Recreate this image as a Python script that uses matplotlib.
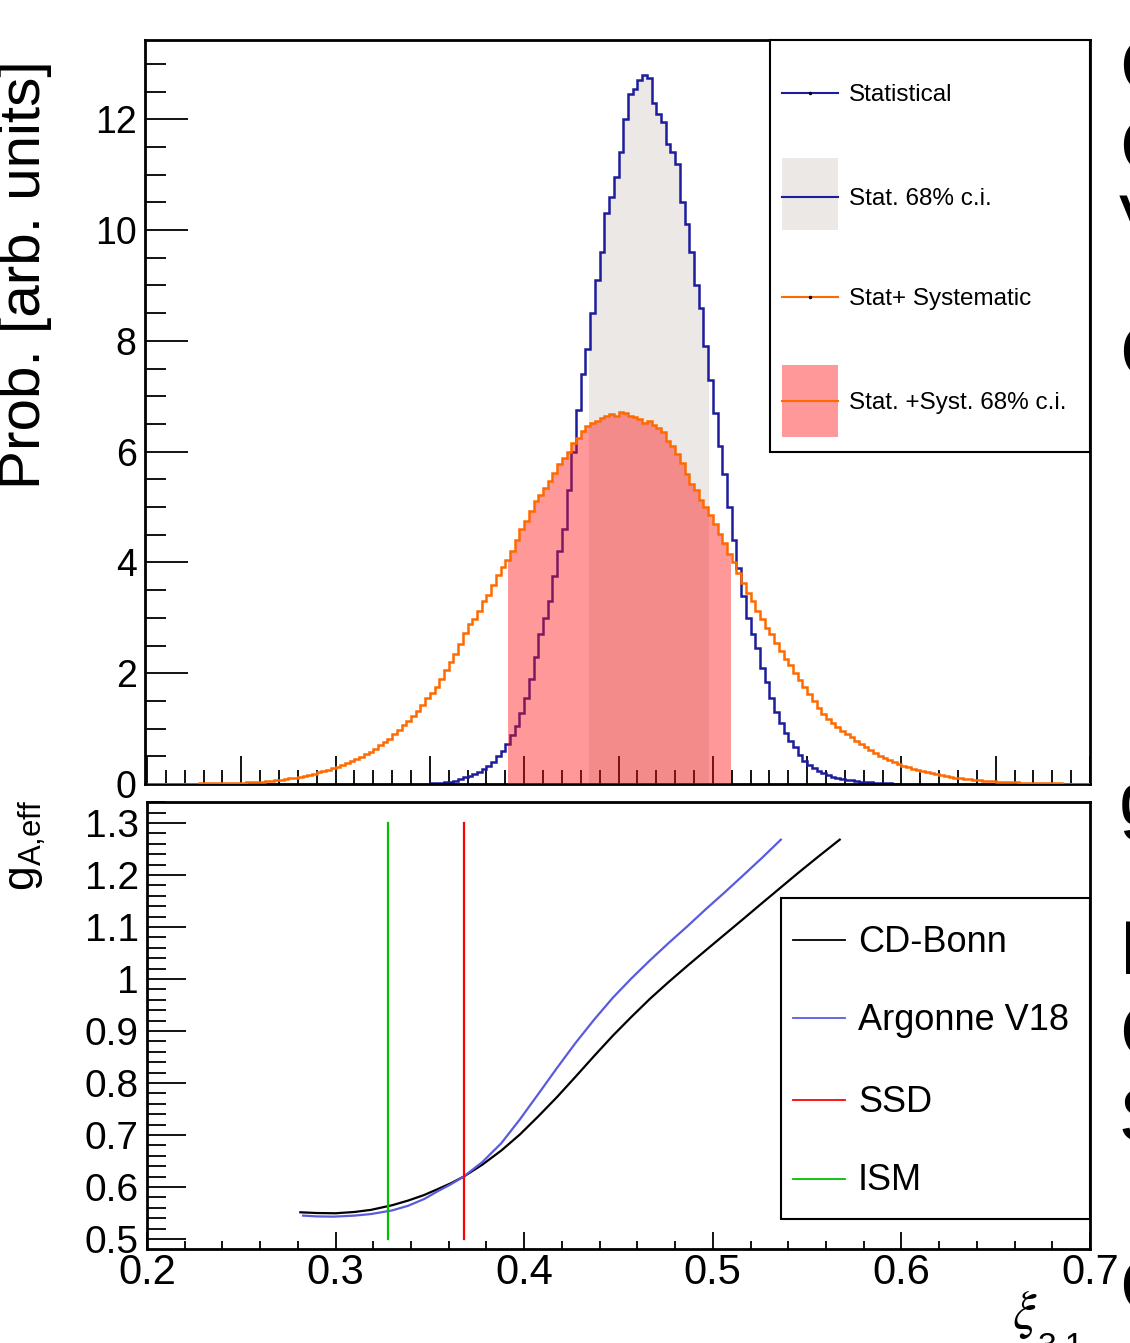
import numpy as np
import matplotlib
matplotlib.use('Agg')
import matplotlib.pyplot as plt
from matplotlib.patches import Rectangle
from matplotlib.lines import Line2D
from matplotlib.ticker import MultipleLocator, FuncFormatter

plt.rcParams['font.family'] = ['Liberation Sans', 'DejaVu Sans']
plt.rcParams['mathtext.fontset'] = 'custom'
plt.rcParams['mathtext.rm'] = 'Liberation Sans'

# ---------------- data ----------------
# Statistical posterior (histogram, bin width 0.0025 starting at 0.350)
stat_lo, stat_w = 0.350, 0.0025
stat_vals = [0.01, 0.015, 0.02, 0.03, 0.04, 0.06, 0.09, 0.12, 0.15, 0.18,
             0.22, 0.27, 0.33, 0.40, 0.5, 0.6, 0.72, 0.88, 1.05, 1.28,
             1.55, 1.9, 2.3, 2.7, 3.0, 3.3, 3.75, 4.2, 4.6, 5.3,
             6.0, 6.75, 7.4, 7.85, 8.5, 9.1, 9.6, 10.3, 10.6, 10.95,
             11.4, 12.0, 12.45, 12.55, 12.7, 12.8, 12.75, 12.3, 12.1, 11.95,
             11.55, 11.4, 11.2, 10.5, 10.1, 9.6, 9.0, 8.6, 7.9, 7.3,
             6.7, 6.1, 5.6, 5.0, 4.4, 3.9, 3.4, 3.0, 2.7, 2.45,
             2.1, 1.85, 1.55, 1.3, 1.1, 0.92, 0.78, 0.66, 0.52, 0.42,
             0.35, 0.28, 0.23, 0.19, 0.16, 0.13, 0.11, 0.09, 0.08, 0.07,
             0.055, 0.045, 0.035, 0.03, 0.022, 0.018, 0.014, 0.01, 0.008, 0.005]
# Stat + systematic posterior (histogram, bin width 0.0025 starting at 0.200)
syst_lo, syst_w = 0.200, 0.0025
syst_vals = [0.003, 0.003, 0.004, 0.004, 0.005, 0.005, 0.006, 0.006, 0.007, 0.008,
             0.009, 0.01, 0.011, 0.012, 0.014, 0.015, 0.017, 0.018, 0.02, 0.022,
             0.025, 0.028, 0.033, 0.037, 0.045, 0.05, 0.06, 0.065, 0.08, 0.09,
             0.1, 0.115, 0.13, 0.145, 0.17, 0.185, 0.21, 0.23, 0.26, 0.28,
             0.31, 0.34, 0.38, 0.42, 0.45, 0.49, 0.54, 0.58, 0.64, 0.70,
             0.76, 0.82, 0.9, 0.97, 1.06, 1.14, 1.22, 1.31, 1.42, 1.55,
             1.65, 1.75, 1.9, 2.05, 2.2, 2.35, 2.52, 2.72, 2.88, 2.98,
             3.12, 3.3, 3.42, 3.6, 3.78, 3.92, 4.05, 4.2, 4.4, 4.6,
             4.75, 4.92, 5.1, 5.22, 5.35, 5.47, 5.62, 5.78, 5.88, 6.0,
             6.15, 6.25, 6.38, 6.46, 6.52, 6.55, 6.6, 6.64, 6.68, 6.65,
             6.72, 6.7, 6.65, 6.62, 6.58, 6.52, 6.55, 6.48, 6.42, 6.35,
             6.2, 6.1, 5.95, 5.8, 5.6, 5.42, 5.3, 5.12, 5.0, 4.85,
             4.7, 4.52, 4.35, 4.15, 4.0, 3.8, 3.62, 3.45, 3.3, 3.12,
             2.98, 2.82, 2.7, 2.55, 2.4, 2.25, 2.15, 2.0, 1.88, 1.75,
             1.62, 1.5, 1.38, 1.27, 1.18, 1.1, 1.02, 0.95, 0.9, 0.84,
             0.78, 0.72, 0.67, 0.61, 0.56, 0.51, 0.47, 0.43, 0.39, 0.36,
             0.33, 0.3, 0.27, 0.25, 0.23, 0.21, 0.19, 0.175, 0.16, 0.145,
             0.13, 0.115, 0.1, 0.092, 0.084, 0.077, 0.068, 0.062, 0.055, 0.05,
             0.045, 0.04, 0.036, 0.032, 0.028, 0.025, 0.022, 0.02, 0.018, 0.016,
             0.014, 0.012, 0.011, 0.01, 0.009, 0.008, 0.007, 0.006, 0.005, 0.005]
stat_ci = (0.4344, 0.4980)
syst_ci = (0.3914, 0.5097)

# g_A,eff vs xi_31
cdb_x = [0.2813, 0.29, 0.30, 0.31, 0.3187, 0.33, 0.3385, 0.3465, 0.3542, 0.361, 0.3679,
         0.3778, 0.3878, 0.3977, 0.4075, 0.4174, 0.4272, 0.4371, 0.447, 0.4568, 0.4667,
         0.4765, 0.4864, 0.4962, 0.5061, 0.516, 0.5258, 0.5357, 0.5456, 0.5565, 0.5673]
cdb_y = [0.5514, 0.5500, 0.5495, 0.552, 0.556, 0.565, 0.574, 0.584, 0.596, 0.607, 0.620,
         0.643, 0.670, 0.701, 0.736, 0.773, 0.812, 0.852, 0.891, 0.927, 0.962,
         0.994, 1.025, 1.055, 1.085, 1.115, 1.145, 1.175, 1.205, 1.237, 1.268]
av18_x = [0.2828, 0.29, 0.299, 0.31, 0.3187, 0.33, 0.3385, 0.347, 0.3542, 0.361, 0.3679,
          0.3778, 0.3878, 0.3977, 0.4075, 0.4174, 0.4272, 0.4371, 0.447, 0.4568, 0.4667,
          0.4765, 0.4864, 0.4962, 0.5061, 0.516, 0.5261, 0.5361]
av18_y = [0.545, 0.5435, 0.543, 0.545, 0.548, 0.555, 0.564, 0.577, 0.592, 0.605, 0.620,
          0.648, 0.684, 0.730, 0.779, 0.829, 0.877, 0.922, 0.964, 1.001, 1.036,
          1.069, 1.101, 1.134, 1.166, 1.199, 1.233, 1.268]
ssd_x, ism_x = 0.368, 0.328
vline_lo, vline_hi = 0.5, 1.3

# ---------------- figure ----------------
W, H = 1130, 1343
fig = plt.figure(figsize=(W / 100, H / 100), dpi=100)


def fx(px):
    return px / W


def fy(py):
    return 1 - py / H


ax1 = fig.add_axes([fx(145), fy(784), (1090 - 145) / W, (784 - 40) / H])
ax2 = fig.add_axes([fx(147), fy(1249), (1090 - 147) / W, (1249 - 802) / H])

stat_vals = np.array(stat_vals)
syst_vals = np.array(syst_vals)
stat_edges = stat_lo + stat_w * np.arange(len(stat_vals) + 1)
syst_edges = syst_lo + syst_w * np.arange(len(syst_vals) + 1)

BLUE = '#1c1c9c'
ORANGE = '#ff6a00'
GRAY = '#ebe8e5'
PINK = (1.0, 0.07, 0.07, 0.43)


def band(ax, edges, vals, lo, hi, **kw):
    inner = edges[(edges > lo) & (edges < hi)]
    xs = np.concatenate([[lo], inner, [hi]])
    idx = np.clip(np.searchsorted(edges, xs, side='right') - 1, 0, len(vals) - 1)
    ys = vals[idx]
    ax.fill_between(xs, ys, step='post', linewidth=0, **kw)


band(ax1, stat_edges, stat_vals, *stat_ci, color=GRAY, zorder=1)
ax1.stairs(stat_vals, stat_edges, color=BLUE, linewidth=1.8, zorder=2)
band(ax1, syst_edges, syst_vals, *syst_ci, color=PINK, zorder=3)
ax1.stairs(syst_vals, syst_edges, color=ORANGE, linewidth=1.8, zorder=4)

ax1.set_xlim(0.2 - 2 / 1886, 0.7)
ax1.set_ylim(0, 13.43)
ax1.xaxis.set_major_locator(MultipleLocator(0.05))
ax1.xaxis.set_minor_locator(MultipleLocator(0.01))
ax1.yaxis.set_major_locator(MultipleLocator(2))
ax1.yaxis.set_minor_locator(MultipleLocator(0.5))
ax1.tick_params(axis='x', which='major', direction='in', length=20, width=1.3,
                labelbottom=False, top=False)
ax1.tick_params(axis='x', which='minor', direction='in', length=10, width=1.3, top=False)
ax1.tick_params(axis='y', which='major', direction='in', length=31, width=1.3,
                labelsize=27, pad=6, right=False)
ax1.tick_params(axis='y', which='minor', direction='in', length=15, width=1.3, right=False)
ax1.yaxis.set_major_formatter(FuncFormatter(lambda v, p: '%g' % v))
for s in ax1.spines.values():
    s.set_linewidth(2)

# bottom panel
ax2.plot(cdb_x, cdb_y, color='black', linewidth=1.6)
ax2.plot(av18_x, av18_y, color='#5a5ae0', linewidth=1.6)
ax2.plot([ssd_x, ssd_x], [vline_lo, vline_hi], color='#ff0000', linewidth=1.6)
ax2.plot([ism_x, ism_x], [vline_lo, vline_hi], color='#00c000', linewidth=1.6)
ax2.set_xlim(0.2, 0.7)
ax2.set_ylim(0.4808, 1.3404)
ax2.xaxis.set_major_locator(MultipleLocator(0.1))
ax2.xaxis.set_minor_locator(MultipleLocator(0.02))
ax2.yaxis.set_major_locator(MultipleLocator(0.1))
ax2.yaxis.set_minor_locator(MultipleLocator(0.02))
ax2.tick_params(axis='x', which='major', direction='in', length=12, width=1.3,
                labelsize=30, pad=3, top=False)
ax2.tick_params(axis='x', which='minor', direction='in', length=6, width=1.3, top=False)
ax2.tick_params(axis='y', which='major', direction='in', length=28, width=1.3,
                labelsize=28, pad=6, right=False)
ax2.tick_params(axis='y', which='minor', direction='in', length=14, width=1.3, right=False)
fmt = FuncFormatter(lambda v, p: '%g' % round(v, 3))
ax2.xaxis.set_major_formatter(fmt)
ax2.yaxis.set_major_formatter(fmt)
for s in ax2.spines.values():
    s.set_linewidth(2)

# axis titles
fig.text(fx(25), fy(275), 'Prob. [arb. units]', rotation=90, fontsize=42,
         ha='center', va='center')
fig.text(fx(28), fy(845), r'$\mathregular{g_{A{,}eff}}$', rotation=90, fontsize=32,
         ha='center', va='center')
# x title: xi with its subscript partly cut by the lower image edge
fig.text(fx(1012), fy(1328), r'$\xi$', fontsize=38, math_fontfamily='stix',
         ha='left', va='baseline')
fig.text(fx(1038), fy(1331), '3,1', fontsize=24, ha='left', va='top')

# top legend (drawn by hand, ROOT style)
fig.patches.append(Rectangle((fx(770), fy(452)), (1090 - 770) / W, (452 - 40) / H,
                             transform=fig.transFigure, facecolor='white',
                             edgecolor='black', linewidth=1.5, zorder=10))
fig.patches.append(Rectangle((fx(782), fy(230)), 56 / W, 72 / H, transform=fig.transFigure,
                             facecolor=GRAY, edgecolor='none', zorder=11))
fig.patches.append(Rectangle((fx(782), fy(437)), 56 / W, 72 / H, transform=fig.transFigure,
                             facecolor='#ff9999', edgecolor='none', zorder=11))
top_entries = [(93, BLUE, 'Statistical', True), (197, BLUE, 'Stat. 68% c.i.', False),
               (297, ORANGE, 'Stat+ Systematic', True),
               (401, ORANGE, 'Stat. +Syst. 68% c.i.', False)]
for yy, col, lab, dot in top_entries:
    fig.lines.append(Line2D([fx(782), fx(838)], [fy(yy), fy(yy)], transform=fig.transFigure,
                            color=col, linewidth=1.5, zorder=12))
    if dot:
        fig.lines.append(Line2D([fx(810)], [fy(yy)], transform=fig.transFigure, marker='o',
                                markersize=1.5, color='black', linestyle='none', zorder=13))
    fig.text(fx(849), fy(yy + 2), lab, fontsize=17.5, ha='left', va='center', zorder=12)

# bottom legend
fig.patches.append(Rectangle((fx(781), fy(1219)), (1090 - 781) / W, (1219 - 898) / H,
                             transform=fig.transFigure, facecolor='white',
                             edgecolor='black', linewidth=1.5, zorder=10))
bot_entries = [(940, 'black', 'CD-Bonn'), (1018, '#5a5ae0', 'Argonne V18'),
               (1100, '#ff0000', 'SSD'), (1179, '#00c000', 'ISM')]
for yy, col, lab in bot_entries:
    fig.lines.append(Line2D([fx(793), fx(845)], [fy(yy), fy(yy)], transform=fig.transFigure,
                            color=col, linewidth=1.3, zorder=12))
    fig.text(fx(858), fy(yy + 2), lab, fontsize=26, ha='left', va='center', zorder=12)

# fragments of neighbouring page text cut by the image edge
frag = [(72, 'C'), (152, 'C'), (228, 'V'), (357, 'C'), (805, 'g'),
        (955, 'I'), (1038, 'C'), (1122, 'S'), (1292, 'C')]
for yy, ch in frag:
    fig.text(fx(1119), fy(yy), ch, fontsize=55, ha='left', va='center')

fig.savefig('out.png', dpi=100)
